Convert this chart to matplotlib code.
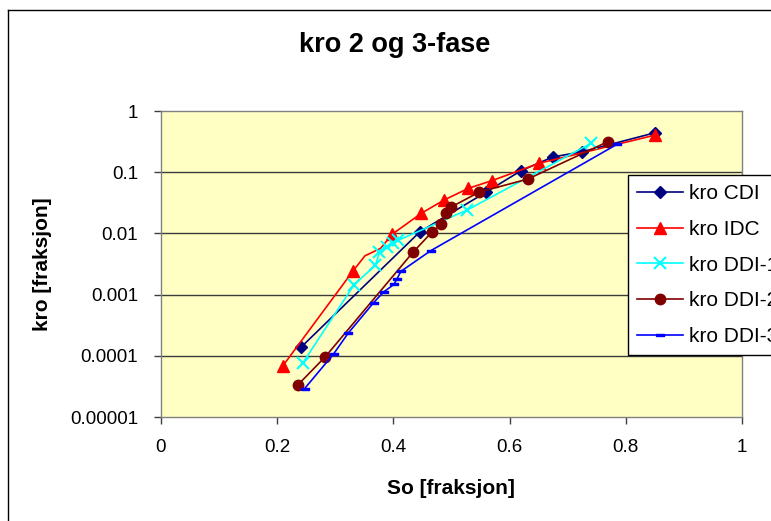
import matplotlib
matplotlib.use("Agg")
import matplotlib.pyplot as plt
from matplotlib.lines import Line2D

plt.rcParams['font.family'] = ['Liberation Sans', 'DejaVu Sans']

# Relative oil permeability vs oil saturation
so_cdi = [0.241, 0.446, 0.560, 0.619, 0.674, 0.725, 0.851]
kro_cdi = [1.38e-4, 1.07e-2, 4.75e-2, 0.105, 0.177, 0.216, 0.443]

so_idc = [0.2095, 0.330, 0.351, 0.378, 0.398, 0.448, 0.487, 0.529, 0.570, 0.651, 0.851]
kro_idc = [6.8e-5, 2.4e-3, 4.3e-3, 5.7e-3, 9.7e-3, 2.13e-2, 3.5e-2, 5.45e-2, 7.3e-2, 0.14, 0.405]
idc_marked = [0, 1, 4, 5, 6, 7, 8, 9, 10]

so_ddi1 = [0.244, 0.3325, 0.369, 0.376, 0.389, 0.400, 0.408, 0.527, 0.740]
kro_ddi1 = [7.6e-5, 1.46e-3, 3.0e-3, 4.9e-3, 5.9e-3, 6.9e-3, 7.7e-3, 2.41e-2, 0.296]

so_ddi2 = [0.235, 0.283, 0.4335, 0.466, 0.482, 0.491, 0.4986, 0.548, 0.631, 0.769]
kro_ddi2 = [3.3e-5, 9.7e-5, 4.9e-3, 1.04e-2, 1.41e-2, 2.13e-2, 2.67e-2, 4.75e-2, 7.7e-2, 0.315]

so_ddi3 = [0.247, 0.297, 0.322, 0.366, 0.383, 0.401, 0.406, 0.413, 0.464, 0.785]
kro_ddi3 = [2.9e-5, 1.07e-4, 2.33e-4, 7.4e-4, 1.1e-3, 1.47e-3, 1.8e-3, 2.4e-3, 5.2e-3, 0.286]

labels = ['kro CDI', 'kro IDC', 'kro DDI-1', 'kro DDI-2', 'kro DDI-3']
x_ticks = [0, 0.2, 0.4, 0.6, 0.8, 1.0]
x_ticklabels = ['0', '0.2', '0.4', '0.6', '0.8', '1']
y_ticks = [1e-5, 1e-4, 1e-3, 1e-2, 1e-1, 1]
y_ticklabels = ['0.00001', '0.0001', '0.001', '0.01', '0.1', '1']

W, H = 771, 521
fig = plt.figure(figsize=(W / 100, H / 100), dpi=100)
fig.patch.set_facecolor('white')

ax = fig.add_axes([161 / W, 1 - 417 / H, (742 - 161) / W, (417 - 111) / H])
ax.set_facecolor('#FFFFC4')
ax.set_yscale('log')
ax.set_xlim(0, 1)
ax.set_ylim(1e-5, 1)

for y in y_ticks[1:-1]:
    ax.axhline(y, color='#3a3a3a', lw=1.0, zorder=1)

for s in ax.spines.values():
    s.set_color('#808080')
    s.set_linewidth(1.0)

lw = 1.2
ax.plot(so_cdi, kro_cdi, color='#000080', lw=lw, marker='D', ms=6.5,
        mfc='#000080', mec='#000080', label=labels[0], zorder=3)
ax.plot(so_idc, kro_idc, color='#FF0000', lw=lw, marker='^', ms=9,
        mfc='#FF0000', mec='#FF0000', markevery=idc_marked, label=labels[1], zorder=3)
ax.plot(so_ddi1, kro_ddi1, color='#00FFFF', lw=lw, marker='x', ms=8, mew=1.5,
        label=labels[2], zorder=3)
ax.plot(so_ddi2, kro_ddi2, color='#800000', lw=lw, marker='o', ms=7.5,
        mfc='#800000', mec='#800000', label=labels[3], zorder=3)
bar = [(-1, -0.35), (1, -0.35), (1, 0.35), (-1, 0.35), (-1, -0.35)]
ax.plot(so_ddi3, kro_ddi3, color='#0000FF', lw=lw, marker=bar, ms=6,
        mfc='#0000FF', mec='#0000FF', label=labels[4], zorder=3)

ax.set_xticks(x_ticks)
ax.set_xticklabels(x_ticklabels)
ax.set_yticks(y_ticks)
ax.set_yticklabels(y_ticklabels)
ax.yaxis.set_minor_locator(matplotlib.ticker.NullLocator())
ax.tick_params(axis='both', which='major', labelsize=13.5, direction='out',
               length=5, color='#404040', width=1.0)
ax.tick_params(axis='x', pad=11)
ax.tick_params(axis='y', pad=11.5)

fig.text(395 / W, 1 - 45 / H, 'kro 2 og 3-fase', ha='center', va='center',
         fontsize=19.5, fontweight='bold')
fig.text(451 / W, 1 - 489 / H, 'So [fraksjon]', ha='center', va='center',
         fontsize=15, fontweight='bold')
fig.text(42 / W, 1 - 264 / H, 'kro [fraksjon]', ha='center', va='center',
         rotation=90, fontsize=15, fontweight='bold')

# chart-area frame (left and top edges)
fig.add_artist(Line2D([8 / W, 8 / W], [0, 1 - 10 / H], transform=fig.transFigure,
                      color='black', lw=1.0))
fig.add_artist(Line2D([8 / W, 1], [1 - 10 / H, 1 - 10 / H], transform=fig.transFigure,
                      color='black', lw=1.0))

leg = fig.legend(loc='upper left', bbox_to_anchor=(628 / W, 1 - 175 / H),
                 borderaxespad=0, fontsize=15, frameon=True, fancybox=False,
                 shadow=False, edgecolor='black', framealpha=1,
                 handlelength=2.2, handletextpad=0.3, labelspacing=0.8,
                 borderpad=0.45)
leg.get_frame().set_linewidth(1.0)

fig.savefig('out.png', dpi=100)
